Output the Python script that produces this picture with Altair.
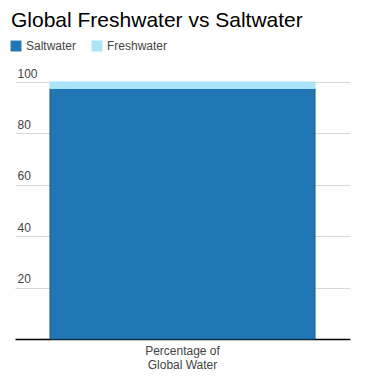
import altair as alt
import pandas as pd

categories = ["Percentage of|Global Water"]
types = ["Saltwater", "Freshwater"]
values = [97.5, 2.5]
colors = ["#2077b4", "#abe5f8"]
strokes = ["#1b5e8e", "#abe5f8"]
y_ticks = [20, 40, 60, 80, 100]

df = pd.DataFrame({
    "category": [categories[0]] * len(types),
    "type": types,
    "value": values,
    "order": list(range(len(types))),
})

chart = alt.Chart(df).mark_bar(strokeWidth=1).encode(
    x=alt.X("category:N", title=None,
            scale=alt.Scale(paddingInner=0, paddingOuter=0.132),
            axis=alt.Axis(labelAngle=0, labelExpr="split(datum.label, '|')",
                          labelFont="Liberation Sans", labelFontSize=12, labelColor="#444",
                          labelPadding=6, labelLineHeight=14,
                          ticks=False, domainColor="#000", domainWidth=1.5)),
    y=alt.Y("value:Q", title=None, stack="zero",
            scale=alt.Scale(domain=[0, 100], nice=False),
            axis=alt.Axis(values=y_ticks, ticks=False, domain=False,
                          labelAlign="left", labelPadding=-2, labelBaseline="bottom",
                          labelOffset=-2, labelFont="Liberation Sans", labelFontSize=12,
                          labelColor="#444", gridColor="#d9d9d9")),
    color=alt.Color("type:N", sort=types, title=None,
                    scale=alt.Scale(domain=types, range=colors),
                    legend=alt.Legend(orient="none", direction="horizontal",
                                      legendX=-5, legendY=-42, symbolType="square",
                                      symbolSize=120, symbolStrokeWidth=0,
                                      labelFont="Liberation Sans", labelFontSize=12,
                                      labelColor="#444", columnPadding=14)),
    stroke=alt.Stroke("type:N", scale=alt.Scale(domain=types, range=strokes), legend=None),
    order=alt.Order("order:Q"),
).properties(
    width=335, height=257,
    title=alt.Title("Global Freshwater vs Saltwater", anchor="start", frame="group",
                    font="Liberation Sans", fontSize=21, fontWeight="normal",
                    color="#000", dx=-4, offset=9),
    autosize=alt.AutoSizeParams(type="none"),
    padding={"left": 7, "top": 74, "right": 14, "bottom": 34},
).configure_view(stroke=None)

chart.save("out.html", embed_options={"renderer": "svg", "actions": False})
